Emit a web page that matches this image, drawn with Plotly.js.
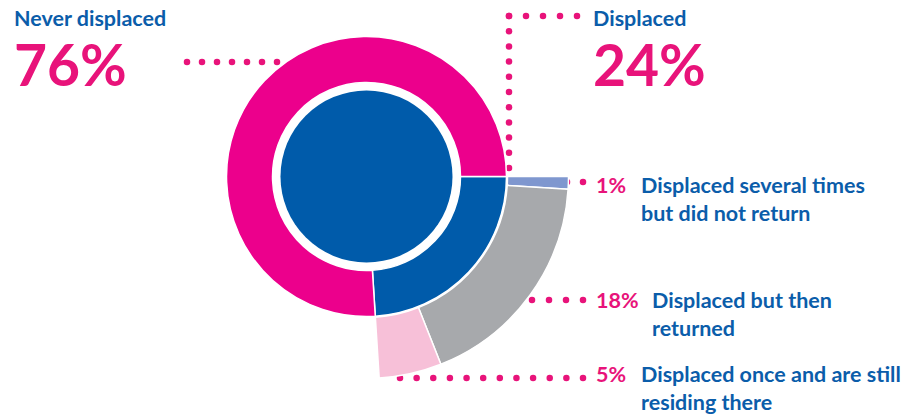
<!DOCTYPE html>
<html>
<head>
<meta charset="utf-8">
<script src="https://cdn.plot.ly/plotly-3.0.1.min.js"></script>
<style>
    html, body { margin: 0; padding: 0; overflow: hidden; background: #ffffff; }
    #chart { position: absolute; left: 0; top: -26px; width: 922px; height: 440px; }
</style>
</head>
<body>
<div id="chart"></div>
<script>
// 数据
const mainLabels = ['Displaced', 'Never displaced'];
const mainValues = [24, 76];
const detailLabels = ['Displaced several times<br>but did not return', 'Displaced but then<br>returned', 'Displaced once and are still<br>residing there'];
const detailValues = [1, 18, 5];

// 颜色
const colors = {
    magenta: '#EC008C',
    blue: '#005BAA',
    textBlue: '#0B5DAA',
    textPink: '#E8137A',
    details: ['#7F97CF', '#A7A9AC', '#F7C0D8']
};

// 几何 (窗口像素)
const W = 922, H = 440, OFFSET = 26;
const cx = 366.5, cy = 176.5;
const rInner = 86, rRing = 140, rRingHole = 94, rOuterHole = 141, rOuter = 202;

// 引导点线 [x0, y0, x1, y1]
const leaders = [
    [187, 62, 277, 62],
    [509, 16, 577, 16],
    [509, 16, 509, 168],
    [567, 182, 583, 182],
    [532, 300, 583, 300],
    [400, 378, 583, 378]
];

function pieDomain(r) {
    const ym = 1 - (cy + OFFSET) / H;
    return {
        x: [(cx - r) / W, (cx + r) / W],
        y: [ym - r / H, ym + r / H]
    };
}

function dotsFor(seg, step) {
    const [x0, y0, x1, y1] = seg;
    const len = Math.hypot(x1 - x0, y1 - y0);
    const n = Math.round(len / step);
    const xs = [], ys = [];
    for (let i = 0; i <= n; i++) {
        xs.push(x0 + (x1 - x0) * i / n);
        ys.push(y0 + (y1 - y0) * i / n);
    }
    return { xs, ys };
}

const dotX = [], dotY = [];
leaders.forEach(seg => {
    const d = dotsFor(seg, 16);
    dotX.push(...d.xs);
    dotY.push(...d.ys);
});

const total = mainValues.reduce((a, b) => a + b, 0);

const data = [
    {
        type: 'scatter',
        mode: 'markers',
        x: dotX,
        y: dotY,
        marker: { size: 6.5, color: colors.textPink },
        hoverinfo: 'skip'
    },
    {
        // 外圈细分
        type: 'pie',
        labels: detailLabels.concat(['rest']),
        values: detailValues.concat([total - detailValues.reduce((a, b) => a + b, 0)]),
        sort: false,
        direction: 'clockwise',
        rotation: 90,
        hole: rOuterHole / rOuter,
        domain: pieDomain(rOuter),
        textinfo: 'none',
        hoverinfo: 'skip',
        marker: {
            colors: colors.details.concat(['rgba(0,0,0,0)']),
            line: { color: '#ffffff', width: [1.5, 1.5, 1.5, 0] }
        }
    },
    {
        // 主环
        type: 'pie',
        labels: mainLabels,
        values: mainValues,
        sort: false,
        direction: 'clockwise',
        rotation: 90,
        hole: rRingHole / rRing,
        domain: pieDomain(rRing),
        textinfo: 'none',
        hoverinfo: 'skip',
        marker: {
            colors: [colors.blue, colors.magenta],
            line: { color: '#ffffff', width: 1.5 }
        }
    },
    {
        // 内圆
        type: 'pie',
        labels: ['all'],
        values: [total],
        sort: false,
        domain: pieDomain(rInner),
        textinfo: 'none',
        hoverinfo: 'skip',
        marker: { colors: [colors.blue], line: { width: 0 } }
    }
];

const bold = 'Lato, "Open Sans", sans-serif';

function label(text, x, y, size, color) {
    return {
        text: '<b>' + text + '</b>',
        x: x, y: y, xref: 'x', yref: 'y',
        xanchor: 'left', yanchor: 'top', align: 'left',
        showarrow: false,
        font: { family: bold, size: size, color: color, weight: 900 }
    };
}

const pct = v => Math.round(v) + '%';

const annotations = [
    label(mainLabels[1], 12, 3, 21.5, colors.textBlue),
    label(pct(mainValues[1]), 12, 28, 57, colors.textPink),
    label(mainLabels[0], 591, 3, 21.5, colors.textBlue),
    label(pct(mainValues[0]), 591, 28, 57, colors.textPink),
    label(pct(detailValues[0]), 594, 170, 21.5, colors.textPink),
    label(detailLabels[0], 639, 170, 21.5, colors.textBlue),
    label(pct(detailValues[1]), 594, 285, 21.5, colors.textPink),
    label(detailLabels[1], 650, 285, 21.5, colors.textBlue),
    label(pct(detailValues[2]), 594, 359, 21.5, colors.textPink),
    label(detailLabels[2], 639, 359, 21.5, colors.textBlue)
];

const layout = {
    width: W,
    height: H,
    margin: { l: 0, r: 0, t: 0, b: 0 },
    paper_bgcolor: '#ffffff',
    plot_bgcolor: 'rgba(0,0,0,0)',
    showlegend: false,
    xaxis: { range: [0, W], visible: false, fixedrange: true },
    yaxis: { range: [H - OFFSET, -OFFSET], visible: false, fixedrange: true },
    annotations: annotations
};

Plotly.newPlot('chart', data, layout, { displayModeBar: false, staticPlot: true });
</script>
</body>
</html>
